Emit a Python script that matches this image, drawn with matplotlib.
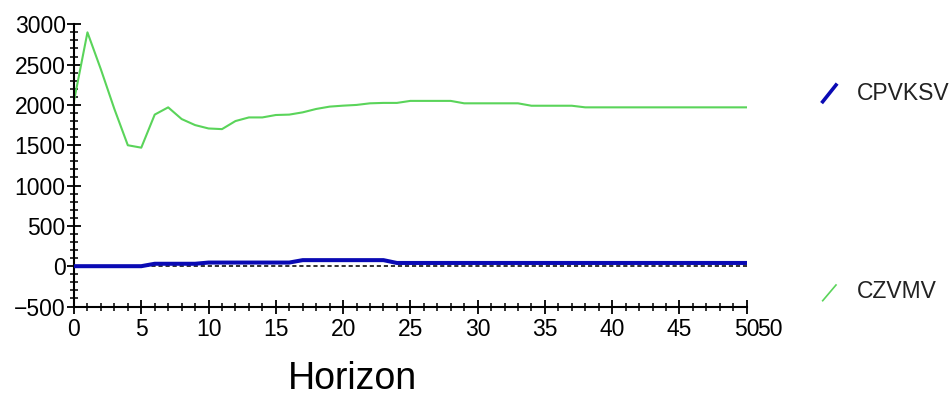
import matplotlib
matplotlib.use("Agg")
import matplotlib.pyplot as plt
from matplotlib.lines import Line2D
from matplotlib.ticker import MultipleLocator

# horizon 0..50
horizon = list(range(51))

# CZVMV (green line)
czvmv = [2050, 2900, 2440, 1950, 1500, 1470, 1880, 1970, 1825, 1750,
         1708, 1700, 1800, 1845, 1845, 1875, 1880, 1908, 1950, 1979,
         1991, 2000, 2020, 2025, 2025, 2050, 2050, 2050, 2050, 2020,
         2020, 2020, 2020, 2020, 1990, 1990, 1990, 1990, 1970, 1970,
         1970, 1970, 1970, 1970, 1970, 1970, 1970, 1970, 1970, 1970,
         1970]

# CPVKSV (blue line), steps
cpvksv = [0, 0, 0, 0, 0, 0, 30, 30, 30, 30,
          45, 45, 45, 45, 45, 45, 45, 75, 75, 75,
          75, 75, 75, 75, 40, 40, 40, 40, 40, 40,
          40, 40, 40, 40, 40, 40, 40, 40, 40, 40,
          40, 40, 40, 40, 40, 40, 40, 40, 40, 40,
          40]

series_names = ["CPVKSV", "CZVMV"]
blue = "#0a0ab4"
green = "#5ad45a"

W, H = 953, 396
fig = plt.figure(figsize=(W / 100, H / 100), dpi=100)
ax = fig.add_axes([74 / W, 1 - 306.5 / H, (746.7 - 74) / W, (306.5 - 24.3) / H])

ax.plot([0, 50], [0, 0], color="#222222", lw=1.3, linestyle=(0, (2.3, 1.6)), zorder=1)
ax.plot(horizon, czvmv, color=green, lw=1.5, zorder=2)
ax.plot(horizon, cpvksv, color=blue, lw=2.9, zorder=3)

ax.set_xlim(0, 50)
ax.set_ylim(-500, 3000)
ax.xaxis.set_major_locator(MultipleLocator(5))
ax.xaxis.set_minor_locator(MultipleLocator(1))
ax.yaxis.set_major_locator(MultipleLocator(500))
ax.yaxis.set_minor_locator(MultipleLocator(100))

for s in ["top", "right"]:
    ax.spines[s].set_visible(False)
for s in ["left", "bottom"]:
    ax.spines[s].set_linewidth(1.5)
    ax.spines[s].set_color("black")

ax.tick_params(which="major", direction="inout", length=10, width=1.3, labelsize=16.5, pad=1)
ax.tick_params(which="minor", direction="inout", length=6, width=1.1)
for lab in ax.get_xticklabels() + ax.get_yticklabels():
    lab.set_fontfamily("Liberation Sans")
ax.tick_params(axis="x", pad=3)

# duplicate "50" at the end of the x axis
ax.annotate("50", xy=(50, -500), xytext=(16.5, -8.5), textcoords="offset points",
            ha="center", va="top", fontsize=16.5, family="Liberation Sans")

fig.text(352 / W, 1 - 379 / H, "Horizon", ha="center", va="center",
         fontsize=27, family="Liberation Sans")

# legend marks
legend_rows = [(blue, 2.6, 101.7, 85, 93), (green, 1.2, 300.7, 285, 292)]
for (col, lw, y0, y1, yt), name in zip(legend_rows, series_names):
    fig.add_artist(Line2D([822.7 / W, 836 / W], [1 - y0 / H, 1 - y1 / H],
                          color=col, lw=lw, transform=fig.transFigure))
    fig.text(857 / W, 1 - yt / H, name, ha="left", va="center",
             fontsize=16.5, family="Liberation Sans", color="#222222")

fig.savefig("out.png", dpi=100)
